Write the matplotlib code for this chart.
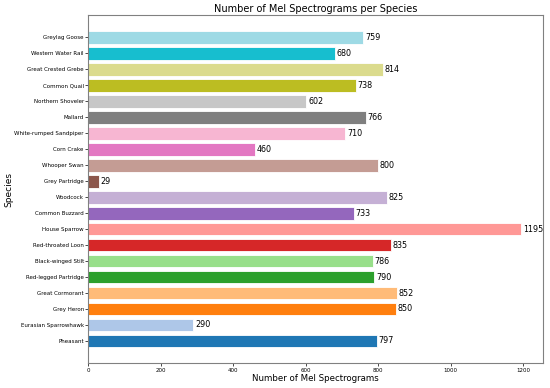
import numpy as np
import matplotlib.pyplot as plt

species = ["Pheasant", "Eurasian Sparrowhawk", "Grey Heron", "Great Cormorant",
           "Red-legged Partridge", "Black-winged Stilt", "Red-throated Loon",
           "House Sparrow", "Common Buzzard", "Woodcock", "Grey Partridge",
           "Whooper Swan", "Corn Crake", "White-rumped Sandpiper", "Mallard",
           "Northern Shoveler", "Common Quail", "Great Crested Grebe",
           "Western Water Rail", "Greylag Goose"]
counts = [797, 290, 850, 852, 790, 786, 835, 1195, 733, 825, 29,
          800, 460, 710, 766, 602, 738, 814, 680, 759]

colors = plt.cm.tab20(np.arange(len(species)))

fig = plt.figure(figsize=(5.5, 3.88), dpi=100)
ax = fig.add_axes([0.16, 0.064, 0.827, 0.897])
bars = ax.barh(species, counts, color=colors, edgecolor='white', linewidth=0.6)

for b, v in zip(bars, counts):
    ax.text(b.get_width() + 5, b.get_y() + b.get_height() / 2, str(v),
            va='center', ha='left', fontsize=5.8)

ax.set_title("Number of Mel Spectrograms per Species", fontsize=7, pad=2.5)
ax.set_xlabel("Number of Mel Spectrograms", fontsize=6.2, labelpad=1)
ax.set_ylabel("Species", fontsize=6.5, labelpad=1)
ax.tick_params(axis='y', labelsize=4.0, length=2, width=0.5, pad=1)
ax.tick_params(axis='x', labelsize=4.0, length=2, width=0.5, pad=1.5)
for s in ax.spines.values():
    s.set_color('#808080')

fig.savefig("out.png", dpi=100)
